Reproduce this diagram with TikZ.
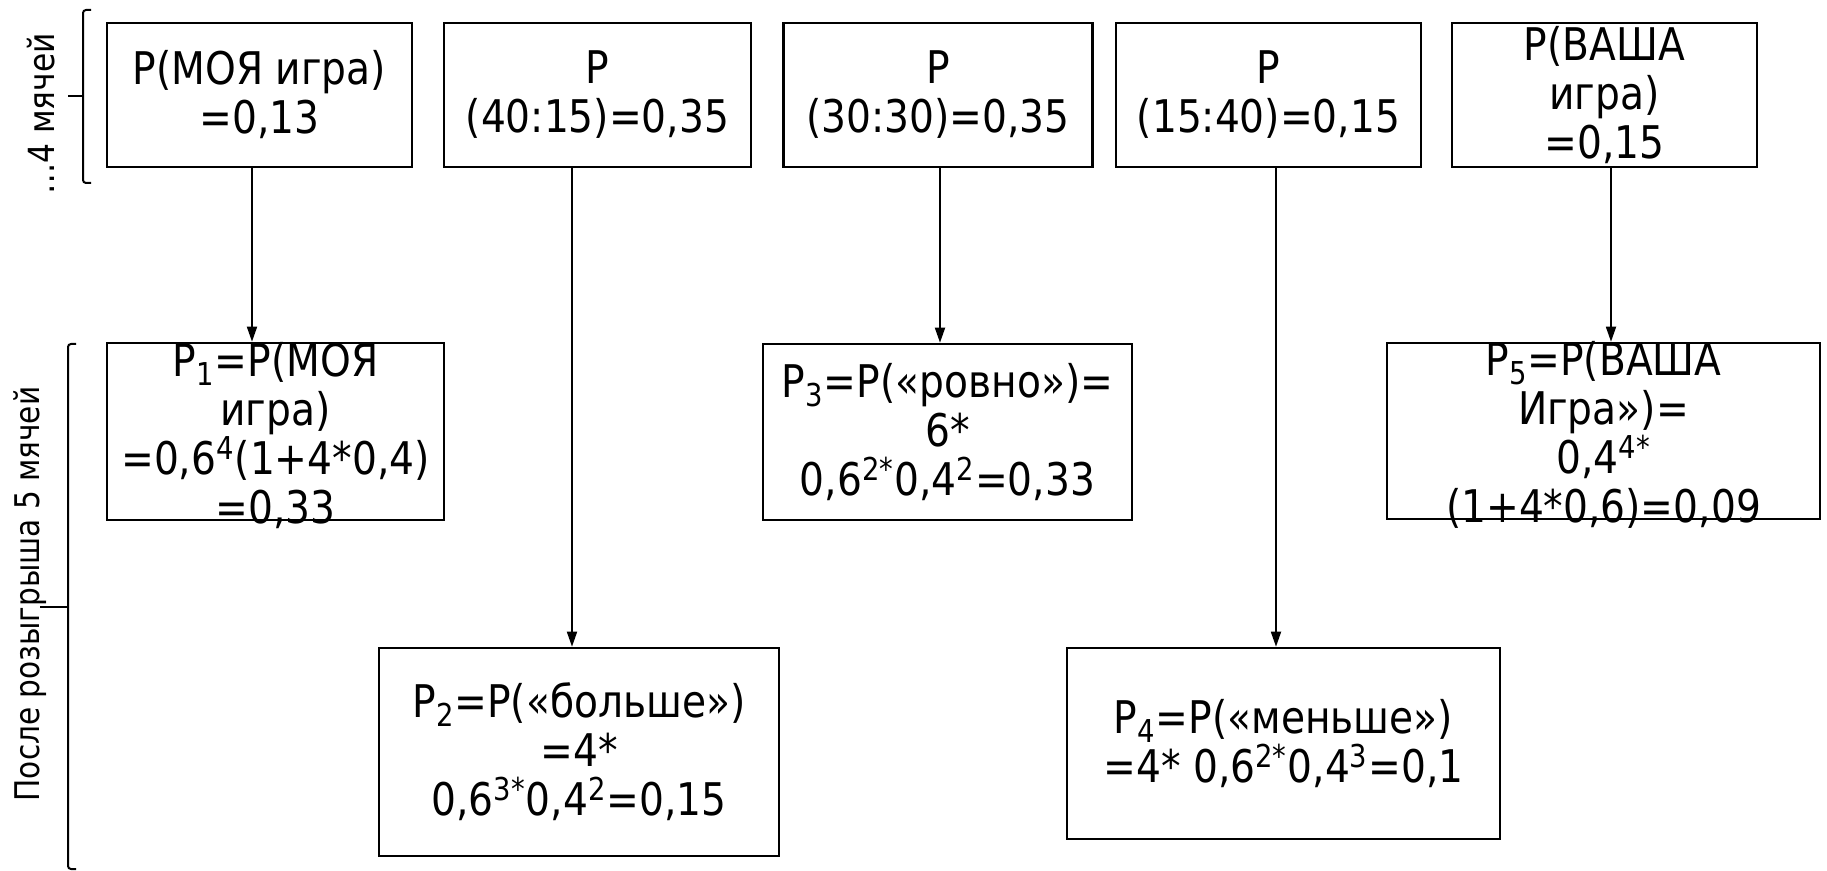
\documentclass[tikz,border=0pt]{standalone}
\usepackage{fontspec}
\setmainfont{DejaVu Sans}[FakeStretch=0.87]
\usepackage{tikz}
\usetikzlibrary{arrows.meta}

\begin{document}
\begin{tikzpicture}[x=0.5pt, y=-0.5pt,
  cell/.style={draw, line width=1.3pt, inner sep=0pt},
  txt/.style={align=center, inner sep=0pt, font=\fontsize{22.5pt}{24.5pt}\selectfont},
  side/.style={inner sep=0pt, rotate=90},
  brk/.style={line width=1pt, rounded corners=1.5pt},
  arr/.style={-{Triangle[length=7.5pt,width=5pt]}, line width=0.9pt}]
\useasboundingbox (0,0) rectangle (1827,871);
% top row: score after 4 balls
\node[cell, minimum width=152.5pt, minimum height=72pt] (top1) at (259.5,95) {};
\node[cell, minimum width=153.5pt, minimum height=72pt] (top2) at (597.5,95) {};
\node[cell, minimum width=154.5pt, minimum height=72pt] (top3) at (938,95) {};
\node[cell, minimum width=152.5pt, minimum height=72pt] (top4) at (1268.5,95) {};
\node[cell, minimum width=152.5pt, minimum height=72pt] (top5) at (1604.5,95) {};
\node[txt] (t1) at (top1) {P(МОЯ игра)\\=0,13};
\node[txt] (t2) at (top2) {P\\(40:15)=0,35};
\node[txt] (t3) at (top3) {P\\(30:30)=0,35};
\node[txt] (t4) at (top4) {P\\(15:40)=0,15};
\node[txt] (t5) at (top5) {P(ВАША\\игра)\\=0,15};
% after 5 balls
\node[cell, minimum width=168.5pt, minimum height=88.5pt] (p1) at (275.5,431.5) {};
\node[cell, minimum width=200pt, minimum height=104pt] (p2) at (579,752) {};
\node[cell, minimum width=184.5pt, minimum height=88pt] (p3) at (947.5,432) {};
\node[cell, minimum width=216.5pt, minimum height=95.5pt] (p4) at (1283.5,743.5) {};
\node[cell, minimum width=216.5pt, minimum height=88pt] (p5) at (1603.5,431) {};
\node[txt, yshift=-2pt] (q1) at (p1) {P\textsubscript{1}=P(МОЯ\\игра)\\=0,6\textsuperscript{4}(1+4*0,4)\\=0,33};
\node[txt] (q2) at (p2) {P\textsubscript{2}=P(«больше»)\\=4*\\0,6\textsuperscript{3*}0,4\textsuperscript{2}=0,15};
\node[txt] (q3) at (p3) {P\textsubscript{3}=P(«ровно»)=\\6*\\0,6\textsuperscript{2*}0,4\textsuperscript{2}=0,33};
\node[txt] (q4) at (p4) {P\textsubscript{4}=P(«меньше»)\\=4* 0,6\textsuperscript{2*}0,4\textsuperscript{3}=0,1};
\node[txt, yshift=-2pt] (q5) at (p5) {P\textsubscript{5}=P(ВАША\\Игра»)=\\0,4\textsuperscript{4*}\\(1+4*0,6)=0,09};
% arrows
\draw[arr] ([xshift=-3.75pt]top1.south) -- ([xshift=-3.75pt]top1.south |- p1.north);
\draw[arr] ([xshift=-12.75pt]top2.south) -- ([xshift=-12.75pt]top2.south |- p2.north);
\draw[arr] ([xshift=1pt]top3.south) -- ([xshift=1pt]top3.south |- p3.north);
\draw[arr] ([xshift=3.75pt]top4.south) -- ([xshift=3.75pt]top4.south |- p4.north);
\draw[arr] ([xshift=3.25pt]top5.south) -- ([xshift=3.25pt]top5.south |- p5.north);
% side brackets
\draw[brk] (91,10) -- (83,10) -- (83,183) -- (91,183);
\draw[brk] (83,96) -- (68,96);
\draw[brk] (76,344) -- (68,344) -- (68,869) -- (76,869);
\draw[brk] (68,607) -- (40,607);
\node[side, font=\fontsize{18pt}{20pt}\selectfont] (lblA) at (41,114) {…4 мячей};
\node[side, font=\fontsize{17pt}{19pt}\selectfont] (lblB) at (30,594) {После розыгрыша 5 мячей};
\end{tikzpicture}
\end{document}
